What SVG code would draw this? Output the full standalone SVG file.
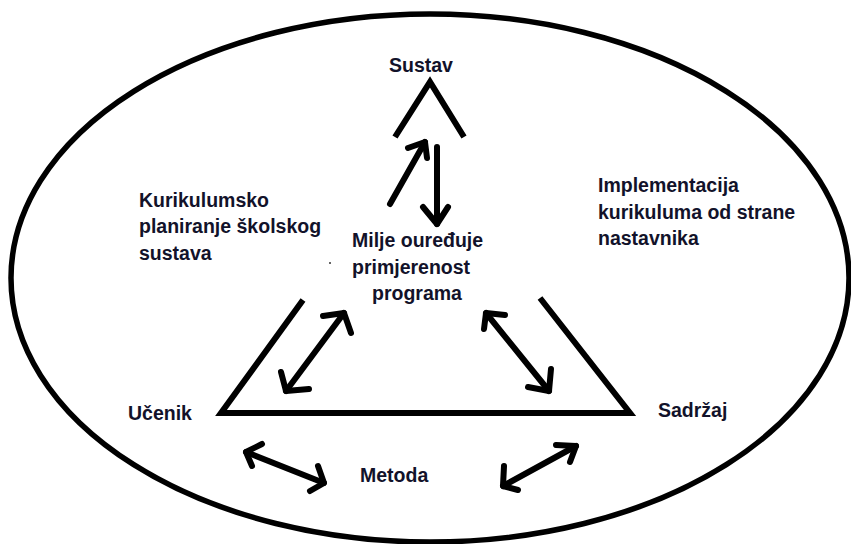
<svg xmlns="http://www.w3.org/2000/svg" width="851" height="544" viewBox="0 0 851 544">
<style>
.t{font-family:"Liberation Sans",Arial,sans-serif;font-weight:bold;font-size:19.5px;fill:#12122a}
.s{fill:none;stroke:#000;stroke-width:6;stroke-linejoin:miter;stroke-linecap:butt}
.a{fill:none;stroke:#000;stroke-width:6;stroke-linejoin:round;stroke-linecap:round}
</style>
<rect width="851" height="544" fill="#fff"/>
<g id="frame">
<ellipse cx="430" cy="278" rx="419" ry="264" fill="none" stroke="#000" stroke-width="5.5"/>
</g>
<g id="sustav">
<polyline class="s" points="395,137 430,82 464,137"/>
<text class="t" x="389" y="72">Sustav</text>
</g>
<g id="kurikulumsko">
<text class="t" x="139" y="207">Kurikulumsko</text>
<text class="t" x="139" y="233">planiranje školskog</text>
<text class="t" x="139" y="260">sustava</text>
</g>
<g id="implementacija">
<text class="t" x="598" y="192">Implementacija</text>
<text class="t" x="598" y="219">kurikuluma od strane</text>
<text class="t" x="598" y="245">nastavnika</text>
</g>
<g id="milje">
<text class="t" x="352" y="247">Milje ouređuje</text>
<text class="t" x="352" y="274">primjerenost</text>
<text class="t" x="372" y="300">programa</text>
<circle cx="330" cy="263" r="1" fill="#333"/>
</g>
<g id="trokut">
<polyline class="s" points="303,300 221,413 630,413 540,298"/>
</g>
<g id="ucenik">
<text class="t" x="128" y="420">Učenik</text>
</g>
<g id="sadrzaj">
<text class="t" x="658" y="417">Sadržaj</text>
</g>
<g id="metoda">
<text class="t" x="360" y="482">Metoda</text>
</g>
<g id="connectors">
<line class="a" x1="390" y1="204" x2="425" y2="142"/>
<polyline class="a" points="408,148 425,142 427,158"/>
<line class="a" x1="437" y1="147" x2="437" y2="224"/>
<polyline class="a" points="423,207 437,224 448,207"/>
<line class="a" x1="286" y1="391" x2="344" y2="313"/>
<polyline class="a" points="323,316 344,313 351,333"/>
<polyline class="a" points="281,372 286,391 309,389"/>
<line class="a" x1="486" y1="313" x2="549" y2="391"/>
<polyline class="a" points="505,315 486,313 484,329"/>
<polyline class="a" points="551,369 549,391 528,387"/>
<line class="a" x1="246" y1="452" x2="324" y2="483"/>
<polyline class="a" points="262,444 246,452 252,466"/>
<polyline class="a" points="318,466 324,483 310,491"/>
<line class="a" x1="503" y1="486" x2="576" y2="446"/>
<polyline class="a" points="504,466 503,486 518,490"/>
<polyline class="a" points="556,445 576,446 570,462"/>
</g>
</svg>
